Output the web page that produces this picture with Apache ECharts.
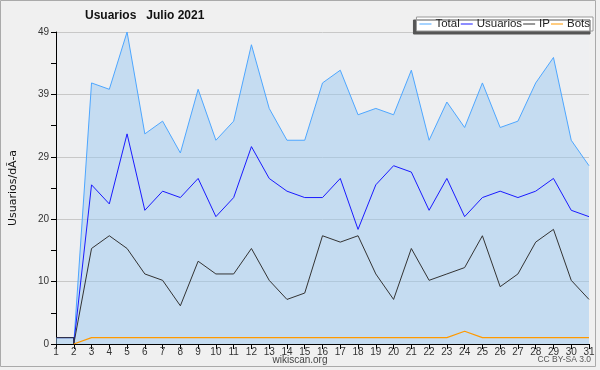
<!DOCTYPE html>
<html><head><meta charset="utf-8">
<script src="https://cdn.jsdelivr.net/npm/echarts@6/dist/echarts.min.js"></script>
<style>html,body{margin:0;padding:0;background:#f0f0f0}#c{width:600px;height:370px}</style>
</head><body><div id="c"></div>
<script>
var days = [1,2,3,4,5,6,7,8,9,10,11,12,13,14,15,16,17,18,19,20,21,22,23,24,25,26,27,28,29,30,31];
var total    = [1,0,41,40,49,33,35,30,40,32,35,47,37,32,32,41,43,36,37,36,43,32,38,34,41,34,35,41,45,32,28];
var usuarios = [1,0,25,22,33,21,24,23,26,20,23,31,26,24,23,23,26,18,25,28,27,21,26,20,23,24,23,24,26,21,20];
var ip       = [1,0,15,17,15,11,10,6,13,11,11,15,10,7,8,17,16,17,11,7,15,10,11,12,17,9,11,16,18,10,7];
var bots     = [null,0,1,1,1,1,1,1,1,1,1,1,1,1,1,1,1,1,1,1,1,1,1,2,1,1,1,1,1,1,1];
var yTicks = [0,10,20,29,39,49];
var seriesNames = ['Total','Usuarios','IP','Bots'];

var NARROW = '"Liberation Sans Narrow", "Liberation Sans", sans-serif';
function pts(vals){
  var out = [];
  for (var i=0;i<days.length;i++){
    if (vals[i]===null) continue;
    if (i===0){ out.push([days[0],vals[0]]); out.push([days[1],vals[0]]); }
    else out.push([days[i],vals[i]]);
  }
  return out;
}
var chart = echarts.init(document.getElementById('c'));
var yMax = yTicks[yTicks.length-1];
chart.setOption({
  backgroundColor:'#f0f0f0',
  animation:false,
  title:{text:'Usuarios   Julio 2021',left:80,top:5,textStyle:{fontFamily:'Liberation Sans',fontWeight:'bold',fontSize:12,color:'#111'}},
  legend:{data:seriesNames,right:7,top:17,backgroundColor:'#fff',borderColor:'#999',borderWidth:1,padding:[1,3,1,3],itemGap:1,itemWidth:12,itemHeight:1,icon:'rect',
    shadowColor:'#555',shadowOffsetX:-3,shadowOffsetY:3,shadowBlur:0,
    textStyle:{fontFamily:NARROW,fontSize:11.5,color:'#222',padding:[0,0,0,-1]}},
  grid:{left:47,right:11,top:32,bottom:26,show:true,backgroundColor:'#eeeff1',borderWidth:0},
  xAxis:{type:'value',min:1,max:31,interval:1,
    axisLine:{lineStyle:{color:'#000',width:1}},
    axisTick:{length:5,lineStyle:{color:'#000'}},
    axisLabel:{fontFamily:NARROW,fontSize:10,color:'#333',margin:3},
    splitLine:{show:false}},
  yAxis:{type:'value',min:0,max:yMax,interval:yMax/5,
    name:'Usuarios/dÃ-a',nameLocation:'middle',nameGap:37,nameRotate:90,
    nameTextStyle:{fontFamily:'DejaVu Sans',fontSize:11,color:'#111'},
    axisLine:{show:true,lineStyle:{color:'#000',width:1}},
    axisTick:{show:true,length:5,lineStyle:{color:'#000'}},
    minorTick:{show:true,splitNumber:2,length:5,lineStyle:{color:'#000'}},
    axisLabel:{fontFamily:NARROW,fontSize:10,color:'#333',margin:7,
      formatter:function(v){return String(Math.round(v));}},
    splitLine:{lineStyle:{color:'#c8c8c8',width:1}}},
  series:[
    {name:'Total',type:'line',symbol:'none',data:pts(total),lineStyle:{color:'#4da6ff',width:1},itemStyle:{color:'#4da6ff'},
      areaStyle:{color:'#96c8f0',opacity:0.47},z:2},
    {name:'Usuarios',type:'line',symbol:'none',data:pts(usuarios),lineStyle:{color:'#1a1aff',width:1},itemStyle:{color:'#1a1aff'},z:3},
    {name:'IP',type:'line',symbol:'none',data:pts(ip),lineStyle:{color:'#333',width:1},itemStyle:{color:'#333'},z:4},
    {name:'Bots',type:'line',symbol:'none',data:pts(bots),lineStyle:{color:'#ff9900',width:1.2},itemStyle:{color:'#ff9900'},z:5}
  ],
  graphic:[
    {type:'rect',shape:{x:0.5,y:0.5,width:595,height:366},style:{fill:null,stroke:'#aaa',lineWidth:1},z:-1},
    {type:'text',left:'center',top:355,style:{text:'wikiscan.org',fontFamily:NARROW,fontSize:10,fill:'#444'}},
    {type:'text',right:9,top:355,style:{text:'CC BY-SA 3.0',fontFamily:NARROW,fontSize:8.5,fill:'#555'}}
  ]
});
</script></body></html>
